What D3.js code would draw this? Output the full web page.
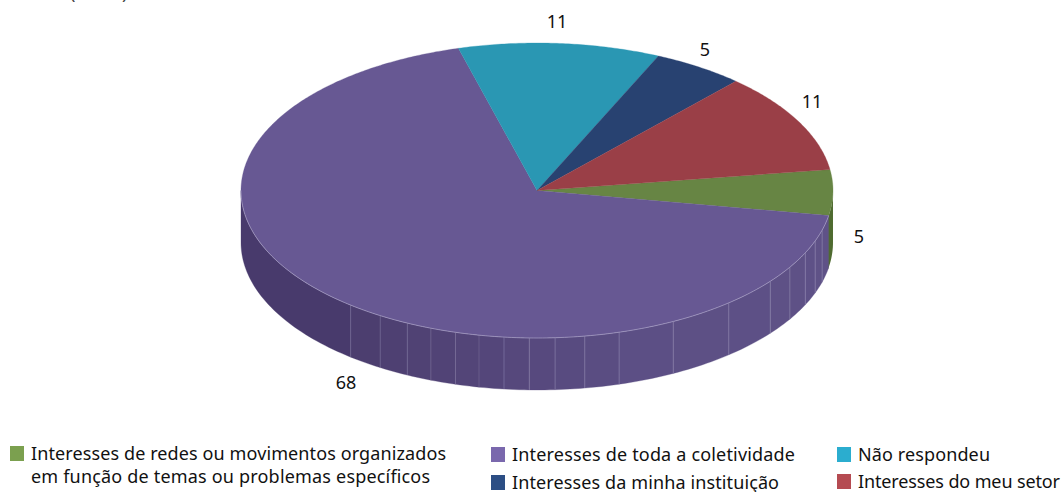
<!DOCTYPE html>
<html><head><meta charset="utf-8">
<script src="https://cdn.jsdelivr.net/npm/d3@7"></script>
<style>html,body{margin:0;padding:0;background:#fff}svg{display:block}text{font-family:"Noto Sans",sans-serif;fill:#111}</style>
</head><body><svg id="c" width="1062" height="492"></svg>
<script>
const categories=["Interesses de redes ou movimentos organizados em função de temas ou problemas específicos","Interesses de toda a coletividade","Não respondeu","Interesses da minha instituição","Interesses do meu setor"];
const values=[5,68,11,5,11];
const topColors=["#678544","#675893","#2a97b3","#284271","#9a3f47"];
const legendColors=["#7ba04f","#7a68ad","#2badcf","#2c4e84","#b54b52"];
const wallSeams=[129,122,116,111,106,101.3,96.4,91.5,86.5,80.7,73.9,62.6,49.6,38,31.3,25,20,15.6];
const legendLines=[["Interesses de redes ou movimentos organizados","em função de temas ou problemas específicos"],["Interesses de toda a coletividade"],["Não respondeu"],["Interesses da minha instituição"],["Interesses do meu setor"]];
const legendWidths=[[415,399],[283],[132],[267],[202]];
const labelPos=[[859,237],[346,383],[557,22],[705,50],[812,102]];
const legendPos=[[10,454],[491,455],[837,455],[491,483],[837,482]];

const svg=d3.select("#c"),cx=537,cy=190.5,rx=296,ry=147.5,depth=52;
const rad=d=>d*Math.PI/180;
const pie=d3.pie().sort(null).value(d=>d).startAngle(rad(81.8)).endAngle(rad(441.8));
const arcs=pie(values);
const toT=a=>a-Math.PI/2;
const pt=(t,dy=0)=>[cx+rx*Math.cos(t),cy+ry*Math.sin(t)+dy];
function wallPath(t0,t1){
  const n=Math.max(2,Math.ceil(Math.abs(t1-t0)/0.02)),s=d3.range(n+1).map(i=>t0+(t1-t0)*i/n);
  return d3.line()([...s.map(t=>pt(t)),...s.slice().reverse().map(t=>pt(t,depth))])+"Z";
}
const wallShade=d3.scaleLinear().domain([10,70,100,130,180]).range(["#5f5287","#5c4f85","#54467a","#4a3c6d","#45386a"]);
const g=svg.append("g");
g.append("path").attr("d",wallPath(rad(-0.5),rad(10.5))).attr("fill","#4f6b30");
const seams=[10,...wallSeams.slice().reverse(),180];
d3.pairs(seams).forEach(([a,b])=>{
  g.append("path").attr("d",wallPath(rad(a),rad(b))).attr("fill",wallShade((a+b)/2)).attr("stroke",wallShade((a+b)/2)).attr("stroke-width",0.3);
});
wallSeams.forEach(s=>{
  const p=pt(rad(s));
  g.append("line").attr("x1",p[0]).attr("x2",p[0]).attr("y1",p[1]).attr("y2",p[1]+depth).attr("stroke","#9a91b8").attr("stroke-width",0.7).attr("stroke-opacity",s>100?0.45:0.7);
});
arcs.forEach((a,i)=>{
  const t0=toT(a.startAngle),t1=toT(a.endAngle),n=Math.ceil((t1-t0)/0.01);
  const pts=d3.range(n+1).map(k=>pt(t0+(t1-t0)*k/n));
  g.append("path").attr("d",d3.line()([[cx,cy],...pts])+"Z").attr("fill",topColors[i]).attr("stroke",topColors[i]).attr("stroke-width",0.3);
});
{const a=arcs[1],t0=toT(a.startAngle),t1=rad(180),n=200;
 g.append("path").attr("d",d3.line()(d3.range(n+1).map(k=>pt(t0+(t1-t0)*k/n)))).attr("fill","none").attr("stroke","#a9a1c6").attr("stroke-width",0.7);}
arcs.forEach((a,i)=>{
  svg.append("text").attr("x",labelPos[i][0]).attr("y",labelPos[i][1]+6).attr("text-anchor","middle").attr("font-size",18).text(values[i]);
});
svg.append("text").attr("x",70).attr("y",-1).attr("font-size",18).style("fill","#444").text("(Em %)");
categories.forEach((c,i)=>{
  const [x,y]=legendPos[i];
  svg.append("rect").attr("x",x).attr("y",y-8).attr("width",14).attr("height",15).attr("fill",legendColors[i]);
  legendLines[i].forEach((l,k)=>{
    svg.append("text").attr("x",x+21).attr("y",y+6+k*23).attr("font-size",18).attr("textLength",legendWidths[i][k]).attr("lengthAdjust","spacing").text(l);
  });
});
</script></body></html>
